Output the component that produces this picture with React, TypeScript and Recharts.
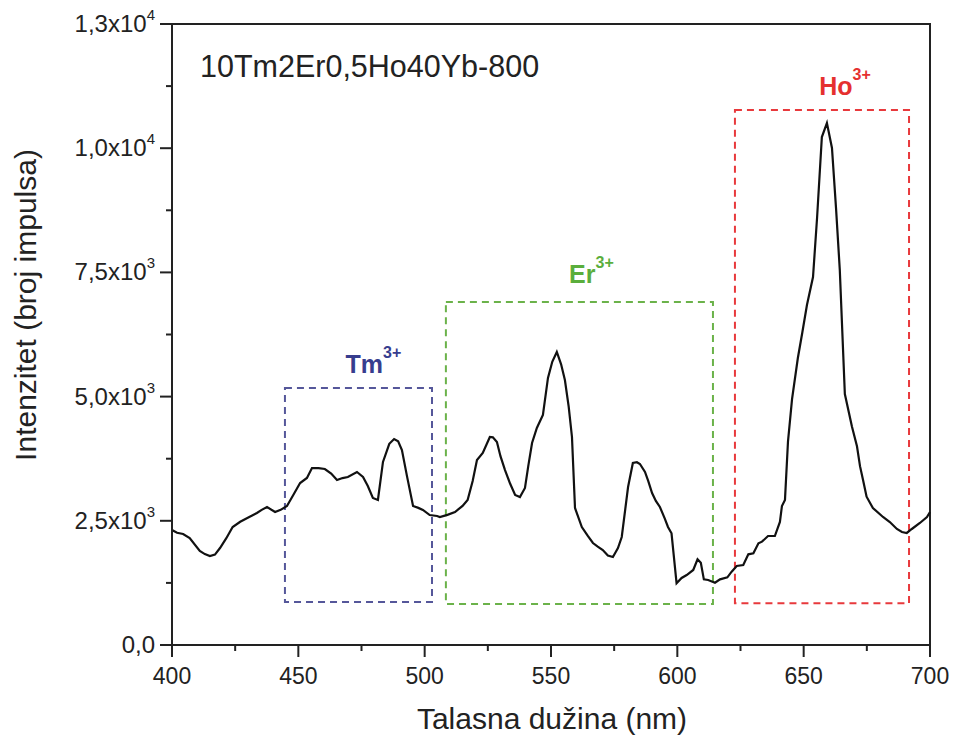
import { LineChart, Line, XAxis, YAxis, ReferenceArea } from 'recharts';

// emission spectrum (nm -> counts)
const wavelength = [
  400, 402, 404.4, 407, 411, 413, 415, 417, 419, 421.5, 424, 427, 430, 433.6, 435.5, 437.6, 440.8, 443,
  445.5, 448, 450.7, 453.4, 455.4, 458, 460.5, 463, 465.3, 467.5, 469.6, 473.2, 475.6, 477.5, 479.5,
  481.5, 483.5, 486, 487.9, 489.5, 491, 493, 495.4, 497.5, 499.3, 502, 504.9, 506, 509, 512, 515, 517,
  519, 520.7, 523, 525.8, 527, 528.6, 530, 531.8, 533.8, 535.8, 537.7, 539.7, 541, 542.5, 544.4, 546.8,
  548.8, 550.5, 552.3, 554, 555.5, 557, 558.3, 559.5, 562.2, 564.5, 566.6, 568.5, 570.5, 572.5, 574.5,
  576.5, 578, 580.5, 582.4, 584, 585.2, 587.2, 588.5, 590, 591.5, 593.1, 595, 596.3, 597.7, 599.7,
  601.7, 603.7, 606.3, 608, 609.3, 610.5, 612.2, 614.9, 616.9, 619.8, 621.5, 623.5, 626.1, 628.1,
  630.1, 632.1, 633.5, 635.9, 638.6, 640.6, 641.4, 642.6, 643.8, 645.4, 647.7, 649.5, 651.3, 653.7,
  655.3, 657.2, 659.2, 661.2, 662.8, 664.3, 666.3, 669.1, 671.1, 672.3, 673.5, 674.9, 677.4, 681.4,
  684.1, 686.9, 688.9, 690.8, 692.8, 696, 698.8, 700,
];
const intensity = [
  2315, 2260, 2235, 2150, 1892, 1830, 1791, 1820, 1952, 2150, 2375, 2480, 2560, 2658, 2720, 2778, 2677, 2720,
  2798, 3020, 3261, 3362, 3562, 3560, 3542, 3450, 3321, 3360, 3382, 3483, 3382, 3200, 2959,
  2919, 3684, 4050, 4146, 4100, 3925, 3400, 2798, 2760, 2718, 2616, 2597, 2577, 2620, 2677, 2800, 2919,
  3300, 3724, 3865, 4187, 4180, 4087, 3800, 3522, 3250, 3019, 2979, 3161, 3600, 4067, 4368, 4630,
  5375, 5700, 5898, 5650, 5334, 4800, 4187, 2758, 2375, 2200, 2053, 1980, 1912, 1800, 1771,
  1950, 2174, 3180, 3664, 3680, 3644, 3483, 3300, 3060, 2900, 2778, 2550, 2375, 2248, 1242,
  1349, 1409, 1510, 1725, 1657, 1322, 1308, 1254, 1322, 1362, 1476, 1590, 1610, 1825,
  1845, 2047, 2080, 2194, 2194, 2476, 2798, 2919, 4100, 4950, 5777, 6300, 6844, 7407,
  8595, 10225, 10507, 10004, 8800, 7548, 5052, 4400, 4000, 3600, 3321, 2985, 2758, 2577,
  2476, 2335, 2275, 2255, 2335, 2456, 2577, 2677,
];

const xMajorTicks = [400, 450, 500, 550, 600, 650, 700];
const xMinorTicks = [425, 475, 525, 575, 625, 675];
const yMajorTicks = [0, 2500, 5000, 7500, 10000, 12500];
const yMinorTicks = [1250, 3750, 6250, 8750, 11250];
const yTickMantissa = ['0,0', '2,5x10', '5,0x10', '7,5x10', '1,0x10', '1,3x10'];
const yTickExponent = ['', '3', '3', '3', '4', '4'];

// dashed boxes marking the ion bands
const ionNames = ['Tm', 'Er', 'Ho'];
const ionCharge = '3+';
const boxFrom = [444.7, 508.4, 622.8];
const boxTo = [502.9, 614.1, 691.7];
const boxLow = [866, 825, 839];
const boxHigh = [5173, 6904, 10769];

const sampleName = '10Tm2Er0,5Ho40Yb-800';

const textColors = ['#373d8e', '#5aae3c', '#e5302f'];
const boxColors = ['#55579a', '#6bb24a', '#e8393c'];
const FONT = '"Liberation Sans", Arial, sans-serif';

const rows = wavelength.map((nm, i) => ({ nm, counts: intensity[i] }));
const xTicks = [...xMajorTicks, ...xMinorTicks].sort((a, b) => a - b);
const yTicks = [...yMajorTicks, ...yMinorTicks].sort((a, b) => a - b);

function XTick(props: any) {
  const { x, y, payload } = props;
  const major = xMajorTicks.includes(payload.value);
  return (
    <g>
      <line x1={x} x2={x} y1={y} y2={y + (major ? 12 : 6)} stroke="#222" strokeWidth={2} />
      {major && (
        <text x={x} y={y + 39} textAnchor="middle" fontSize={23} fontFamily={FONT} fill="#222">
          {payload.value}
        </text>
      )}
    </g>
  );
}

function YTick(props: any) {
  const { x, y, payload } = props;
  const idx = yMajorTicks.indexOf(payload.value);
  const major = idx >= 0;
  return (
    <g>
      <line x1={x - (major ? 12 : 6)} x2={x} y1={y} y2={y} stroke="#222" strokeWidth={2} />
      {major && (
        <text x={x - 17} y={y + 8} textAnchor="end" fontSize={24} fontFamily={FONT} fill="#222">
          <tspan>{yTickMantissa[idx]}</tspan>
          {yTickExponent[idx] && (
            <tspan dy={-12} fontSize={15}>
              {yTickExponent[idx]}
            </tspan>
          )}
        </text>
      )}
    </g>
  );
}

function YTitle() {
  return (
    <text
      transform="translate(36,305) rotate(-90)"
      textAnchor="middle"
      fontSize={30}
      fontFamily={FONT}
      fill="#222"
    >
      Intenzitet (broj impulsa)
    </text>
  );
}

function XTitle() {
  return (
    <text x={552} y={729} textAnchor="middle" fontSize={30} fontFamily={FONT} fill="#222">
      Talasna dužina (nm)
    </text>
  );
}

function SampleLabel(props: any) {
  const { viewBox } = props;
  return (
    <text x={viewBox.x + 28} y={viewBox.y + 53} fontSize={30.5} fontFamily={FONT} fill="#222">
      {sampleName}
    </text>
  );
}

function makeIonLabel(i: number, shift: number, gap: number) {
  return (props: any) => {
    const { viewBox } = props;
    const cx = viewBox.x + viewBox.width / 2 + shift;
    return (
      <text
        x={cx}
        y={viewBox.y - gap}
        textAnchor="middle"
        fontSize={25}
        fontWeight="bold"
        fontFamily={FONT}
        fill={textColors[i]}
      >
        <tspan>{ionNames[i]}</tspan>
        <tspan dy={-15} fontSize={16}>
          {ionCharge}
        </tspan>
      </text>
    );
  };
}

const ionShift = [15, 12, 23];
const ionGap = [15, 19, 15];

export default function App() {
  return (
    <div style={{ position: 'absolute', left: 0, top: 0, background: '#fff' }}>
      <LineChart
        width={954}
        height={740}
        data={rows}
        margin={{ top: 24, right: 24, bottom: 0, left: 0 }}
      >
        <XAxis
          type="number"
          dataKey="nm"
          domain={[400, 700]}
          ticks={xTicks}
          interval={0}
          height={95}
          tickSize={0}
          tickMargin={0}
          tickLine={false}
          tick={<XTick />}
          axisLine={{ stroke: '#222', strokeWidth: 2 }}
          label={<XTitle />}
        />
        <YAxis
          type="number"
          domain={[0, 12500]}
          ticks={yTicks}
          interval={0}
          width={172}
          tickSize={0}
          tickMargin={0}
          tickLine={false}
          tick={<YTick />}
          axisLine={{ stroke: '#222', strokeWidth: 2 }}
          label={<YTitle />}
        />
        {/* plot frame (top and right edges) */}
        <ReferenceArea
          x1={400}
          x2={700}
          y1={0}
          y2={12500}
          fill="none"
          stroke="#222"
          strokeWidth={2}
          label={<SampleLabel />}
        />
        {ionNames.map((name, i) => {
          const Lbl = makeIonLabel(i, ionShift[i], ionGap[i]);
          return (
            <ReferenceArea
              key={name}
              x1={boxFrom[i]}
              x2={boxTo[i]}
              y1={boxLow[i]}
              y2={boxHigh[i]}
              fill="none"
              stroke={boxColors[i]}
              strokeWidth={2}
              strokeDasharray="7 5"
              label={<Lbl />}
            />
          );
        })}
        <Line
          type="linear"
          dataKey="counts"
          stroke="#111"
          strokeWidth={2.2}
          dot={false}
          isAnimationActive={false}
        />
      </LineChart>
    </div>
  );
}
